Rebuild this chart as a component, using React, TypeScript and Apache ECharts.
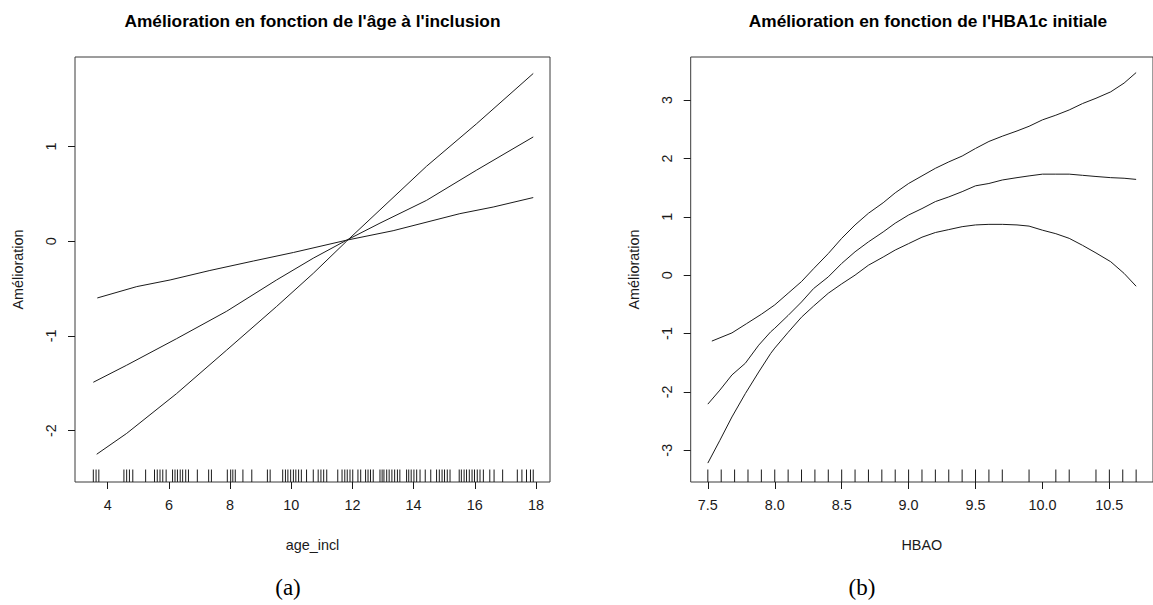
import React, { useEffect, useRef } from "react";
import * as echarts from "echarts";

// Panel (a): smooth term for age at inclusion (fit and ±2 SE band)
const ageX = [3.53, 4.62, 6.25, 7.89, 9.52, 10.72, 11.81, 12.9, 14.42, 16.06, 17.91];
const ageFit = [-1.49, -1.31, -1.03, -0.74, -0.41, -0.18, 0.01, 0.19, 0.43, 0.75, 1.1];
const ageBandX = [3.64, 4.62, 6.25, 7.89, 9.52, 10.72, 11.81, 12.9, 14.42, 16.06, 17.91];
const ageBandSteep = [-2.25, -2.03, -1.61, -1.15, -0.69, -0.34, 0.0, 0.33, 0.79, 1.24, 1.77];
const ageBandFlatX = [3.66, 4.95, 6.04, 7.34, 8.76, 10.07, 11.81, 13.33, 15.51, 16.6, 17.91];
const ageBandFlat = [-0.6, -0.48, -0.41, -0.31, -0.21, -0.12, 0.01, 0.11, 0.29, 0.36, 0.46];
const ageRug = [
  3.53, 3.62, 3.71, 4.53, 4.62, 4.71, 4.82, 5.24, 5.53, 5.62, 5.71, 5.8, 5.91, 6.12, 6.2,
  6.28, 6.37, 6.45, 6.55, 6.64, 6.93, 7.3, 7.39, 7.91, 8.02, 8.09, 8.17, 8.42, 8.71, 9.22,
  9.31, 9.72, 9.81, 9.89, 9.98, 10.07, 10.15, 10.24, 10.33, 10.5, 10.72, 10.88, 10.97,
  11.06, 11.16, 11.52, 11.66, 11.75, 11.83, 11.92, 12.01, 12.18, 12.27, 12.43, 12.51,
  12.59, 12.68, 12.9, 12.97, 13.03, 13.12, 13.2, 13.29, 13.38, 13.47, 13.55, 13.77, 13.84,
  13.92, 14.01, 14.1, 14.21, 14.38, 14.56, 14.75, 14.84, 14.93, 15.01, 15.1, 15.19, 15.49,
  15.56, 15.65, 15.73, 15.82, 15.91, 15.99, 16.08, 16.17, 16.28, 16.49, 16.63, 16.91,
  17.39, 17.54, 17.69, 17.82, 17.91,
];
const ageTicks = [4, 6, 8, 10, 12, 14, 16, 18];
const ageYTicks = [-2, -1, 0, 1];

// Panel (b): smooth term for initial HbA1c
const hbaX = [
  7.5, 7.59, 7.68, 7.78, 7.88, 7.97, 8.0, 8.1, 8.2, 8.29, 8.4, 8.5, 8.6, 8.7, 8.81, 8.9,
  9.0, 9.1, 9.2, 9.3, 9.4, 9.5, 9.6, 9.7, 9.81, 9.9, 10.0, 10.1, 10.2, 10.3, 10.4, 10.51,
  10.61, 10.7,
];
const hbaFit = [
  -2.21, -1.97, -1.71, -1.51, -1.2, -0.97, -0.91, -0.69, -0.46, -0.23, -0.03, 0.2, 0.4,
  0.57, 0.74, 0.89, 1.03, 1.14, 1.26, 1.34, 1.43, 1.53, 1.57, 1.63, 1.67, 1.7, 1.73, 1.73,
  1.73, 1.71, 1.69, 1.67, 1.66, 1.64,
];
const hbaLower = [
  -3.22, -2.83, -2.43, -2.03, -1.66, -1.34, -1.25, -0.98, -0.72, -0.53, -0.31, -0.15, 0.0,
  0.17, 0.31, 0.43, 0.54, 0.65, 0.73, 0.78, 0.83, 0.86, 0.87, 0.87, 0.86, 0.84, 0.77, 0.71,
  0.63, 0.51, 0.38, 0.23, 0.03, -0.19,
];
const hbaUpperX = [
  7.53, 7.68, 7.79, 7.9, 8.0, 8.1, 8.2, 8.29, 8.4, 8.5, 8.6, 8.7, 8.81, 8.9, 9.0, 9.1, 9.2,
  9.3, 9.4, 9.5, 9.6, 9.7, 9.81, 9.9, 10.0, 10.1, 10.2, 10.3, 10.4, 10.51, 10.61, 10.7,
];
const hbaUpper = [
  -1.13, -0.99, -0.83, -0.67, -0.51, -0.31, -0.11, 0.11, 0.37, 0.63, 0.86, 1.06, 1.24,
  1.41, 1.57, 1.7, 1.83, 1.94, 2.04, 2.17, 2.29, 2.38, 2.47, 2.55, 2.66, 2.74, 2.83, 2.94,
  3.03, 3.14, 3.29, 3.47,
];
const hbaRug = [
  7.5, 7.6, 7.7, 7.8, 7.9, 8.0, 8.1, 8.2, 8.3, 8.4, 8.5, 8.6, 8.7, 8.8, 8.9, 9.0, 9.1, 9.2,
  9.3, 9.4, 9.5, 9.6, 9.7, 9.9, 10.1, 10.2, 10.4, 10.5, 10.6, 10.7,
];
const hbaTicks = [7.5, 8.0, 8.5, 9.0, 9.5, 10.0, 10.5];
const hbaYTicks = [-3, -2, -1, 0, 1, 2, 3];

const INK = "#1a1a1a";
const SANS = "'Liberation Sans', Arial, sans-serif";
const BASE = 14.4;

const zip = (xs: number[], ys: number[]) => xs.map((x, i) => [x, ys[i]]);

const lineSeries = (idx: number, data: number[][]) => ({
  type: "line",
  xAxisIndex: idx,
  yAxisIndex: idx,
  data,
  showSymbol: false,
  symbol: "none",
  smooth: false,
  lineStyle: { color: INK, width: 1 },
  silent: true,
});

const rugSeries = (idx: number, values: number[], yMin: number) => ({
  type: "custom",
  xAxisIndex: idx,
  yAxisIndex: idx,
  data: values.map((v) => [v, yMin]),
  silent: true,
  renderItem: (_params: any, api: any) => {
    const p = api.coord([api.value(0), api.value(1)]);
    return {
      type: "line",
      shape: { x1: p[0], y1: p[1], x2: p[0], y2: p[1] - 12.5 },
      style: { stroke: INK, lineWidth: 1 },
    };
  },
});

const xAxisDef = (idx: number, min: number, max: number, ticks: number[], name: string, digits: number) => ({
  type: "value",
  gridIndex: idx,
  position: "bottom",
  min,
  max,
  name,
  nameLocation: "middle",
  nameGap: 56,
  nameTextStyle: { color: INK, fontFamily: SANS, fontSize: BASE },
  axisLine: { show: false, onZero: false },
  splitLine: { show: false },
  axisTick: { show: true, length: 7, lineStyle: { color: INK }, customValues: ticks },
  axisLabel: {
    color: INK,
    fontFamily: SANS,
    fontSize: BASE,
    margin: 16,
    customValues: ticks,
    formatter: (v: number) => v.toFixed(digits),
  },
});

const yAxisDef = (idx: number, min: number, max: number, ticks: number[]) => ({
  type: "value",
  gridIndex: idx,
  position: "left",
  min,
  max,
  name: "Amélioration",
  nameLocation: "middle",
  nameRotate: 90,
  nameGap: 50,
  nameTextStyle: { color: INK, fontFamily: SANS, fontSize: BASE },
  axisLine: { show: false, onZero: false },
  splitLine: { show: false },
  axisTick: { show: true, length: 7, lineStyle: { color: INK }, customValues: ticks },
  axisLabel: {
    color: INK,
    fontFamily: SANS,
    fontSize: BASE,
    margin: 17,
    rotate: 90,
    customValues: ticks,
    formatter: (v: number) => String(v),
  },
});

export default function App() {
  const ref = useRef<HTMLDivElement>(null);

  useEffect(() => {
    if (!ref.current) return;
    const chart = echarts.init(ref.current, undefined, { renderer: "svg" });

    const ageYMin = -2.543;
    const hbaYMin = -3.544;

    chart.setOption({
      animation: false,
      backgroundColor: "#ffffff",
      grid: [
        { left: 75, top: 57, width: 475, height: 425, show: true, borderColor: "#3a3a3a", borderWidth: 1, backgroundColor: "transparent" },
        { left: 690.7, top: 57, width: 474.3, height: 425, show: true, borderColor: "#3a3a3a", borderWidth: 1, backgroundColor: "transparent" },
      ],
      xAxis: [
        xAxisDef(0, 2.931, 18.458, ageTicks, "age_incl", 0),
        xAxisDef(1, 7.372, 10.826, hbaTicks, "HBAO", 1),
      ],
      yAxis: [yAxisDef(0, ageYMin, 1.944, ageYTicks), yAxisDef(1, hbaYMin, 3.737, hbaYTicks)],
      series: [
        lineSeries(0, zip(ageX, ageFit)),
        lineSeries(0, zip(ageBandX, ageBandSteep)),
        lineSeries(0, zip(ageBandFlatX, ageBandFlat)),
        rugSeries(0, ageRug, ageYMin),
        lineSeries(1, zip(hbaX, hbaFit)),
        lineSeries(1, zip(hbaX, hbaLower)),
        lineSeries(1, zip(hbaUpperX, hbaUpper)),
        rugSeries(1, hbaRug, hbaYMin),
      ],
      graphic: [
        {
          type: "text",
          x: 312.5,
          y: 21,
          style: {
            text: "Amélioration en fonction de l'âge à l'inclusion",
            font: `bold 17.3px ${SANS}`,
            fill: "#000",
            textAlign: "center",
            textVerticalAlign: "middle",
          },
        },
        {
          type: "text",
          x: 928,
          y: 21,
          style: {
            text: "Amélioration en fonction de l'HBA1c initiale",
            font: `bold 17.3px ${SANS}`,
            fill: "#000",
            textAlign: "center",
            textVerticalAlign: "middle",
          },
        },
        {
          type: "text",
          x: 288,
          y: 587,
          style: {
            text: "(a)",
            font: "23px 'Liberation Serif', 'DejaVu Serif', serif",
            fill: "#000",
            textAlign: "center",
            textVerticalAlign: "middle",
          },
        },
        {
          type: "text",
          x: 862,
          y: 587,
          style: {
            text: "(b)",
            font: "23px 'Liberation Serif', 'DejaVu Serif', serif",
            fill: "#000",
            textAlign: "center",
            textVerticalAlign: "middle",
          },
        },
      ],
    });

    return () => chart.dispose();
  }, []);

  return (
    <div
      ref={ref}
      style={{ position: "fixed", left: 0, top: 0, width: 1153, height: 605, background: "#fff" }}
    />
  );
}
